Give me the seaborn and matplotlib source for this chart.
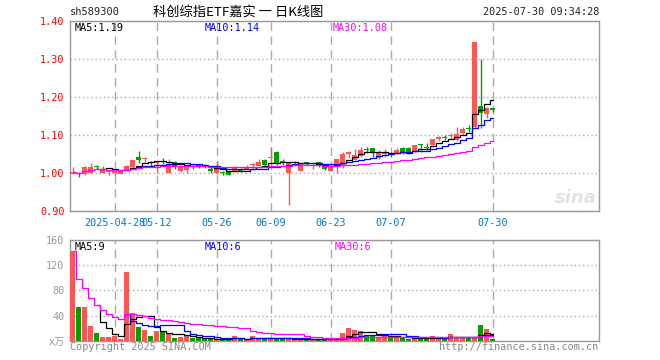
import numpy as np
import pandas as pd
import matplotlib
matplotlib.use('Agg')
import matplotlib.pyplot as plt
import seaborn as sns

# daily K-line data (index 0 = first trading day)
opens = [0.997, 1.002, 0.998, 1.002, 1.019, 1.002, 1.004, 1.002, 0.998, 1.009,
         1.016, 1.044, 1.037, 1.027, 1.026, 1.031, 1.002, 1.030, 1.007, 1.009,
         1.019, 1.021, 1.020, 1.012, 1.002, 1.002, 1.0035, 1.004, 1.011, 1.009,
         1.022, 1.019, 1.035, 1.039, 1.056, 1.031, 1.002, 1.028, 1.007, 1.027,
         1.018, 1.030, 1.018, 1.007, 1.020, 1.018, 1.052, 1.035, 1.046, 1.062,
         1.066, 1.040, 1.050, 1.052, 1.053, 1.066, 1.066, 1.057, 1.075, 1.067,
         1.075, 1.090, 1.095, 1.099, 1.088, 1.107, 1.117, 1.123, 1.177, 1.156,
         1.172]
closes = [1.004, 0.998, 1.016, 1.016, 1.017, 1.010, 1.005, 1.003, 1.008, 1.018,
          1.035, 1.034, 1.038, 1.026, 1.029, 1.030, 1.022, 1.018, 1.018, 1.018,
          1.017, 1.020, 1.019, 1.005, 1.013, 1.001, 0.9965, 1.014, 1.005, 1.016,
          1.023, 1.030, 1.021, 1.040, 1.026, 1.030, 1.026, 1.029, 1.026, 1.026,
          1.023, 1.019, 1.011, 1.019, 1.037, 1.052, 1.053, 1.048, 1.061, 1.061,
          1.053, 1.054, 1.051, 1.051, 1.061, 1.057, 1.053, 1.075, 1.074, 1.066,
          1.090, 1.096, 1.094, 1.100, 1.103, 1.116, 1.116, 1.345, 1.158, 1.173,
          1.167]
highs = [1.016, 1.004, 1.018, 1.026, 1.023, 1.018, 1.009, 1.005, 1.009, 1.023,
         1.035, 1.058, 1.042, 1.033, 1.032, 1.039, 1.037, 1.033, 1.020, 1.020,
         1.023, 1.025, 1.024, 1.018, 1.033, 1.007, 1.005, 1.018, 1.014, 1.022,
         1.028, 1.037, 1.037, 1.070, 1.058, 1.037, 1.028, 1.032, 1.027, 1.028,
         1.024, 1.031, 1.019, 1.020, 1.038, 1.056, 1.060, 1.063, 1.068, 1.070,
         1.067, 1.061, 1.063, 1.055, 1.066, 1.070, 1.068, 1.075, 1.076, 1.079,
         1.091, 1.097, 1.100, 1.105, 1.121, 1.121, 1.127, 1.345, 1.300, 1.175,
         1.172]
lows = [0.997, 0.990, 0.995, 1.000, 1.011, 1.000, 0.996, 0.995, 0.997, 1.009,
        1.013, 1.026, 1.030, 1.019, 1.000, 1.025, 1.000, 1.011, 1.004, 1.002,
        1.011, 1.015, 1.013, 1.002, 0.998, 0.996, 0.995, 1.003, 1.003, 1.008,
        1.014, 1.018, 1.019, 1.025, 1.023, 1.023, 0.917, 1.018, 1.005, 1.021,
        1.011, 1.016, 1.008, 1.005, 1.000, 1.013, 1.040, 1.034, 1.042, 1.054,
        1.042, 1.038, 1.044, 1.044, 1.051, 1.051, 1.050, 1.055, 1.055, 1.062,
        1.070, 1.085, 1.088, 1.090, 1.085, 1.103, 1.110, 1.120, 1.118, 1.145,
        1.161]
volumes = [142, 54, 54, 24, 12, 6, 6, 8, 3, 109,
           44, 21, 17, 7, 16, 14, 10, 5, 6, 9,
           4, 4, 2, 4, 3, 3, 3, 7, 2, 2,
           8, 3, 4, 4, 4, 3, 3, 2, 3, 2,
           2, 2, 3, 2, 3, 12, 20, 17, 15, 8,
           8, 6, 10, 5, 6, 4, 3, 5, 3, 3,
           7, 6, 3, 11, 6, 5, 5, 5, 25, 19,
           3]

date_pos = [7, 14, 24, 33, 43, 53, 70]
date_labels = ['2025-04-28', '05-12', '05-26', '06-09', '06-23', '07-07', '07-30']
price_ticks = [0.90, 1.00, 1.10, 1.20, 1.30, 1.40]
vol_ticks = [0, 40, 80, 120, 160]
vol_tick_labels = ['x万', '40', '80', '120', '160']

RED = '#ff5555'
GREEN = '#00a000'
GRID = '#aaaaaa'
FRAME = '#999999'

sns.set_style('white')
plt.rcParams['font.family'] = ['DejaVu Sans Mono', 'Noto Sans CJK SC']

df = pd.DataFrame({'open': opens, 'close': closes, 'high': highs, 'low': lows, 'vol': volumes})
df['i'] = np.arange(len(df))
df['dir'] = np.where(df['close'] >= df['open'], 'up', 'down')
cols = df['dir'].map({'up': RED, 'down': GREEN})

W, H = 660, 360
fig = plt.figure(figsize=(W / 100, H / 100), dpi=100)
ax = fig.add_axes([70 / W, 1 - 211.3 / H, 529 / W, 190 / H])
axv = fig.add_axes([70 / W, 1 - 340.7 / H, 529 / W, 100.7 / H])

# candles
ax.vlines(df['i'], df['low'], df['high'], colors=cols, lw=1, zorder=3)
body_bottom = np.minimum(df['open'], df['close'])
body_h = np.maximum((df['close'] - df['open']).abs(), 0.0028)
ax.bar(df['i'], body_h, bottom=body_bottom, width=0.8, color=cols, linewidth=0, zorder=4)

# moving averages (MA30 uses what is available at the start)
ma_style = [(5, 5, 'black'), (10, 10, '#0000ff'), (30, 1, '#ff00ff')]
for n, mp, c in ma_style:
    sns.lineplot(x=df['i'], y=df['close'].rolling(n, min_periods=mp).mean(), ax=ax,
                 color=c, lw=0.9, drawstyle='steps-mid', zorder=5)
    sns.lineplot(x=df['i'], y=df['vol'].rolling(n, min_periods=mp).mean(), ax=axv,
                 color=c, lw=0.9, drawstyle='steps-mid', zorder=5)

# volume bars
sns.barplot(data=df, x='i', y='vol', hue='dir', palette={'up': RED, 'down': GREEN},
            native_scale=True, dodge=False, width=0.8, saturation=1, errorbar=None,
            legend=False, ax=axv, zorder=4)
for p in axv.patches:
    p.set_linewidth(0)

for a in (ax, axv):
    a.set_xlim(-0.45, 87.7)
    a.set_xlabel('')
    a.set_ylabel('')
    a.set_xticks(date_pos)
    a.grid(True, axis='y', ls=(0, (1, 2)), color=GRID, lw=1)
    a.grid(True, axis='x', ls=(0, (6, 4)), color=GRID, lw=1)
    a.set_axisbelow(True)
    for s in a.spines.values():
        s.set_color(FRAME)
        s.set_linewidth(1)
        s.set_visible(True)
    a.tick_params(length=0)

ax.set_ylim(0.90, 1.40)
ax.set_yticks(price_ticks)
ax.set_yticklabels(['%.2f' % v for v in price_ticks])
ax.tick_params(axis='y', labelcolor='red', labelsize=7.3, pad=4)
ax.set_xticklabels(date_labels)
ax.tick_params(axis='x', labelcolor='#0077cc', labelsize=7.3, pad=5)

axv.set_ylim(0, 160)
axv.set_yticks(vol_ticks)
axv.set_yticklabels(vol_tick_labels)
axv.tick_params(axis='y', labelcolor=FRAME, labelsize=7.3, pad=4)
axv.set_xticklabels([])

# watermark
ax.text(0.995, 0.07, 'sina', transform=ax.transAxes, ha='right', va='center',
        fontsize=13, fontstyle='italic', fontweight='bold', color='#e2e2e2',
        family='DejaVu Sans', zorder=1)


def ftext(x, y, s, **kw):
    fig.text(x / W, 1 - y / H, s, va='center', **kw)


ftext(70, 12, 'sh589300', ha='left', fontsize=7.5, color='#222222')
ftext(238, 12, '科创综指ETF嘉实 一 日K线图', ha='center', fontsize=9.5, color='black',
      family=['Noto Sans CJK SC', 'DejaVu Sans'])
ftext(599, 12, '2025-07-30 09:34:28', ha='right', fontsize=7.3, color='#222222')

ftext(75, 28, 'MA5:1.19', ha='left', fontsize=7.3, color='black')
ftext(205, 28, 'MA10:1.14', ha='left', fontsize=7.3, color='#0000ff')
ftext(333, 28, 'MA30:1.08', ha='left', fontsize=7.3, color='#ff00ff')

ftext(75, 247, 'MA5:9', ha='left', fontsize=7.3, color='black')
ftext(205, 247, 'MA10:6', ha='left', fontsize=7.3, color='#0000ff')
ftext(335, 247, 'MA30:6', ha='left', fontsize=7.3, color='#ff00ff')

ftext(70, 347, 'Copyright 2025 SINA.COM', ha='left', fontsize=7.3, color='#888888')
ftext(598, 347, 'http://finance.sina.com.cn', ha='right', fontsize=7.3, color='#888888')

fig.savefig('out.png', dpi=100)
